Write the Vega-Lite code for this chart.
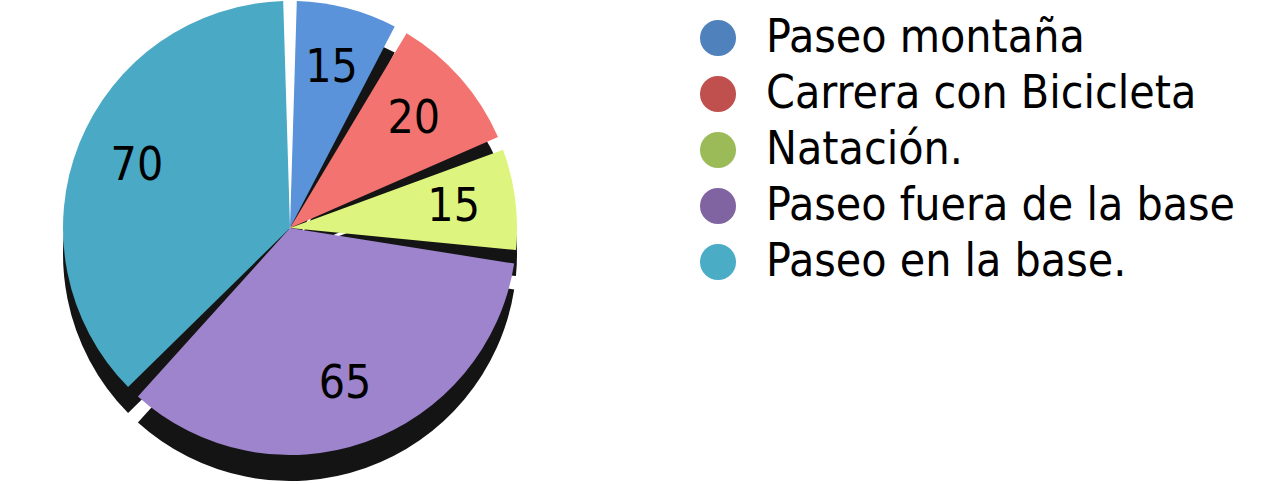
{
  "$schema": "https://vega.github.io/schema/vega-lite/v6.json",
  "width": 580,
  "height": 456,
  "padding": {"left": 0, "top": 0, "right": 691, "bottom": 28},
  "autosize": {"type": "none"},
  "background": "white",
  "view": {"stroke": null},
  "data": {
    "values": [
      {"actividad": "Paseo montaña", "serie": "Paseo montaña", "valor": 15, "orden": 1},
      {"actividad": "Carrera con Bicicleta", "serie": "Carrera con Bicicleta", "valor": 20, "orden": 2},
      {"actividad": "Natación.", "serie": "Natación.", "valor": 15, "orden": 3},
      {"actividad": "Paseo fuera de la base", "serie": "Paseo fuera de la base", "valor": 65, "orden": 4},
      {"actividad": "Paseo en la base.", "serie": "Paseo en la base.", "valor": 70, "orden": 5}
    ]
  },
  "encoding": {
    "theta": {"field": "valor", "type": "quantitative", "stack": true},
    "order": {"field": "orden", "type": "quantitative"}
  },
  "layer": [
    {
      "mark": {"type": "arc", "outerRadius": 227, "yOffset": 26, "padAngle": 0.06, "fill": "#141414"}
    },
    {
      "mark": {"type": "arc", "outerRadius": 227, "padAngle": 0.06},
      "encoding": {
        "fill": {
          "field": "actividad", "type": "nominal",
          "scale": {
            "domain": ["Paseo montaña", "Carrera con Bicicleta", "Natación.", "Paseo fuera de la base", "Paseo en la base."],
            "range": ["#5a93d9", "#f27370", "#ddf57e", "#9d84cc", "#4aa9c4"]
          },
          "legend": null
        }
      }
    },
    {
      "mark": {"type": "arc", "outerRadius": 227, "opacity": 0},
      "encoding": {
        "color": {
          "field": "serie", "type": "nominal",
          "sort": null,
          "scale": {
            "domain": ["Paseo montaña", "Carrera con Bicicleta", "Natación.", "Paseo fuera de la base", "Paseo en la base."],
            "range": ["#4f81bd", "#c0504d", "#9bbb59", "#8064a2", "#4bacc6"]
          },
          "legend": {
            "orient": "none",
            "legendX": 695,
            "legendY": 15,
            "title": null,
            "symbolType": "circle",
            "symbolSize": 1300,
            "symbolOpacity": 1,
            "symbolStrokeWidth": 0,
            "labelFontSize": 46,
            "labelFont": "DejaVu Sans Condensed",
            "labelColor": "black",
            "labelOffset": 25,
            "rowPadding": 10,
            "labelLimit": 700
          }
        }
      }
    },
    {
      "mark": {"type": "text", "radius": 165, "fontSize": 46, "font": "DejaVu Sans Condensed", "fill": "black"},
      "encoding": {"text": {"field": "valor", "type": "quantitative"}}
    }
  ],
  "resolve": {"legend": {"color": "independent", "fill": "independent"}}
}
